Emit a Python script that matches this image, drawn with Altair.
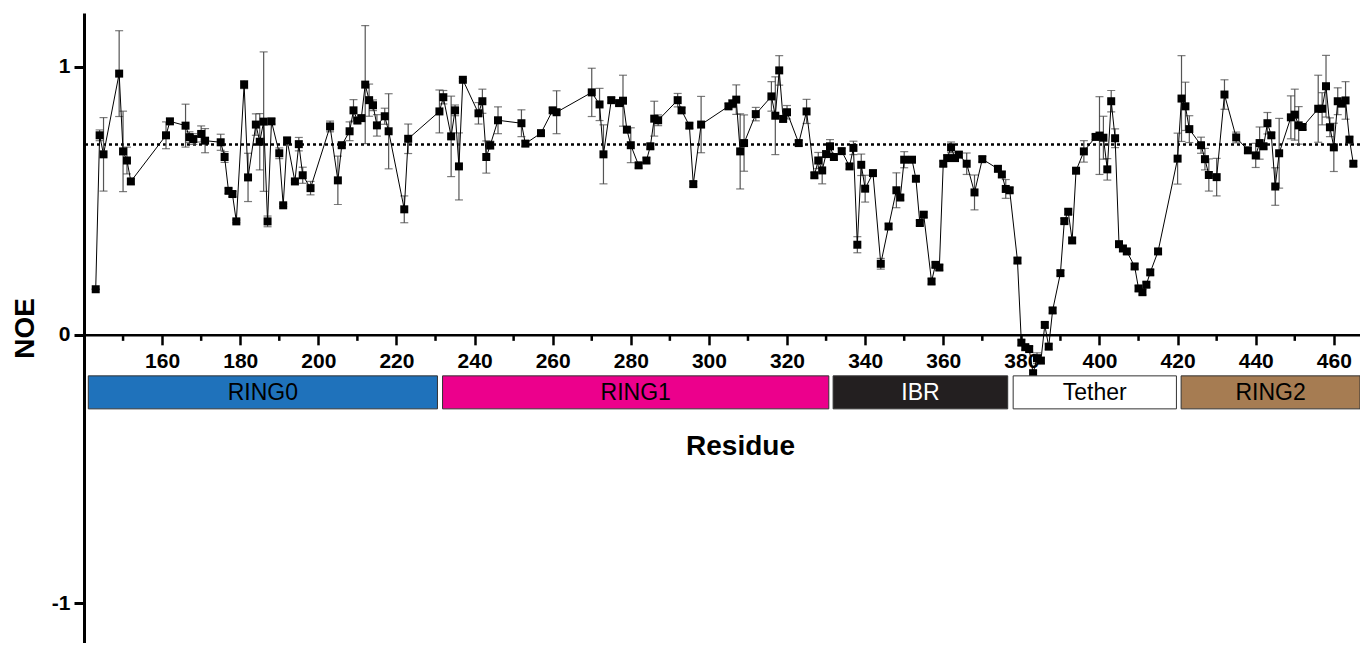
import altair as alt
import pandas as pd

# ---------------- data ----------------
residue = [143, 144, 145, 149, 150, 151, 152, 161, 162, 166, 167, 168, 170, 171,
           175, 176, 177, 178, 179, 181, 182, 184, 185, 186, 187, 188, 190, 191,
           192, 194, 195, 196, 198, 203, 205, 206, 208, 209, 210, 211, 212, 213,
           214, 215, 217, 218, 222, 223, 231, 232, 234, 235, 236, 237, 241, 242,
           243, 244, 246, 252, 253, 257, 260, 261, 270, 272, 273, 275, 277, 278,
           279, 280, 282, 284, 285, 286, 287, 292, 293, 295, 296, 298, 305, 306,
           307, 308, 309, 312, 316, 317, 318, 319, 320, 323, 325, 327, 328, 329,
           330, 331, 332, 334, 336, 337, 338, 339, 340, 342, 344, 346, 348, 349,
           350, 352, 353, 354, 355, 357, 358, 359, 360, 361, 362, 363, 364, 366,
           368, 370, 374, 375, 376, 377, 379, 380, 381, 382, 383, 384, 385, 386,
           387, 388, 390, 391, 392, 393, 394, 396, 399, 400, 401, 402, 403, 404,
           405, 406, 407, 409, 410, 411, 412, 413, 415, 420, 421, 422, 423, 426,
           427, 428, 430, 432, 435, 438, 440, 441, 442, 443, 444, 445, 446, 449,
           450, 451, 452, 456, 457, 458, 459, 460, 461, 462, 463, 464, 465]

noe = [0.170, 0.744, 0.673, 0.974, 0.684, 0.650, 0.572, 0.744, 0.796, 0.780, 0.737,
       0.730, 0.749, 0.724, 0.718, 0.663, 0.537, 0.525, 0.423, 0.933, 0.587, 0.784,
       0.720, 0.795, 0.423, 0.796, 0.677, 0.483, 0.725, 0.572, 0.711, 0.595, 0.547,
       0.777, 0.576, 0.707, 0.759, 0.837, 0.799, 0.808, 0.933, 0.875, 0.856, 0.781,
       0.815, 0.759, 0.468, 0.731, 0.833, 0.886, 0.740, 0.837, 0.628, 0.951, 0.826,
       0.871, 0.663, 0.707, 0.800, 0.789, 0.713, 0.752, 0.837, 0.830, 0.904, 0.859,
       0.673, 0.875, 0.864, 0.873, 0.765, 0.707, 0.632, 0.650, 0.703, 0.806, 0.800,
       0.875, 0.837, 0.780, 0.562, 0.784, 0.852, 0.862, 0.877, 0.684, 0.715, 0.823,
       0.889, 0.817, 0.986, 0.805, 0.830, 0.715, 0.833, 0.595, 0.650, 0.613, 0.674,
       0.703, 0.663, 0.685, 0.628, 0.697, 0.336, 0.634, 0.545, 0.603, 0.265, 0.404,
       0.539, 0.512, 0.653, 0.653, 0.582, 0.417, 0.448, 0.199, 0.261, 0.251, 0.638,
       0.659, 0.699, 0.659, 0.672, 0.638, 0.531, 0.655, 0.619, 0.598, 0.544, 0.539,
       0.277, -0.029, -0.046, -0.053, -0.143, -0.087, -0.096, 0.037, -0.044, 0.091,
       0.230, 0.424, 0.459, 0.352, 0.612, 0.684, 0.738, 0.743, 0.735, 0.617, 0.871,
       0.733, 0.338, 0.322, 0.311, 0.255, 0.173, 0.159, 0.187, 0.233, 0.311, 0.657,
       0.881, 0.852, 0.767, 0.707, 0.655, 0.596, 0.588, 0.896, 0.736, 0.688, 0.669,
       0.715, 0.703, 0.789, 0.744, 0.553, 0.677, 0.811, 0.821, 0.781, 0.775, 0.843,
       0.843, 0.927, 0.774, 0.699, 0.871, 0.862, 0.874, 0.728, 0.638]

err = [0.0, 0.02, 0.137, 0.16, 0.15, 0.05, 0.01, 0.05, 0.01, 0.08, 0.02, 0.02,
       0.03, 0.045, 0.03, 0.02, 0.01, 0.01, 0.005, 0.015, 0.09, 0.04, 0.105, 0.26,
       0.02, 0.01, 0.02, 0.005, 0.01, 0.005, 0.025, 0.03, 0.025, 0.02, 0.09, 0.01,
       0.035, 0.04, 0.01, 0.01, 0.22, 0.06, 0.02, 0.04, 0.03, 0.14, 0.05, 0.055,
       0.08, 0.025, 0.15, 0.02, 0.125, 0.005, 0.04, 0.045, 0.06, 0.015, 0.05, 0.05,
       0.01, 0.01, 0.01, 0.08, 0.09, 0.06, 0.11, 0.01, 0.01, 0.095, 0.01, 0.065,
       0.01, 0.01, 0.01, 0.065, 0.02, 0.025, 0.01, 0.01, 0.01, 0.105, 0.01, 0.015,
       0.055, 0.14, 0.105, 0.025, 0.055, 0.145, 0.055, 0.01, 0.025, 0.01, 0.045,
       0.01, 0.03, 0.05, 0.01, 0.025, 0.01, 0.01, 0.01, 0.025, 0.03, 0.04, 0.05,
       0.01, 0.02, 0.01, 0.065, 0.01, 0.03, 0.01, 0.01, 0.01, 0.01, 0.01, 0.01,
       0.01, 0.01, 0.01, 0.02, 0.01, 0.01, 0.04, 0.065, 0.01, 0.01, 0.01, 0.035,
       0.01, 0.01, 0.01, 0.01, 0.01, 0.01, 0.02, 0.01, 0.01, 0.01, 0.01, 0.01,
       0.01, 0.01, 0.01, 0.01, 0.04, 0.01, 0.145, 0.08, 0.04, 0.04, 0.035, 0.01,
       0.01, 0.01, 0.01, 0.01, 0.01, 0.01, 0.01, 0.01, 0.095, 0.16, 0.09, 0.05,
       0.03, 0.04, 0.06, 0.07, 0.055, 0.02, 0.01, 0.045, 0.06, 0.01, 0.04, 0.01,
       0.07, 0.13, 0.08, 0.095, 0.07, 0.01, 0.125, 0.06, 0.115, 0.035, 0.09, 0.05,
       0.01, 0.07, 0.01, 0.01]

dom_names = ["RING0", "RING1", "IBR", "Tether", "RING2"]
dom_start = [141.1, 231.8, 331.8, 377.9, 420.9]
dom_end = [230.5, 330.7, 376.5, 419.7, 466.7]
dom_fill = ["#1f72bb", "#ec008c", "#231f20", "#ffffff", "#a67c52"]
dom_text = ["#000000", "#000000", "#ffffff", "#000000", "#000000"]
box_top, box_bottom = -0.153, -0.276

ref_line = [0.71]
x_major_ticks = list(range(160, 461, 20))
x_minor_ticks = list(range(150, 451, 20))
y_tick_values = [-1, 0, 1]

# ---------------- layout ----------------
X_MIN, X_MAX = 140, 466.7
Y_MIN, Y_MAX = -1.149, 1.2
W, H = 1276, 630
PX_PER_UNIT = H / (Y_MAX - Y_MIN)
x_axis_offset = -H * (0 - Y_MIN) / (Y_MAX - Y_MIN)
MINOR_TICK_PX = 6
FONT = "Liberation Sans"

df = pd.DataFrame({"res": residue, "noe": noe, "err": err})
df["lo"] = df["noe"] - df["err"]
df["hi"] = df["noe"] + df["err"]

dom = pd.DataFrame({"res": dom_start, "end": dom_end, "name": dom_names,
                    "fill": dom_fill, "tcol": dom_text})
dom["mid"] = (dom["res"] + dom["end"]) / 2
dom["noe"] = box_top
dom["bottom"] = box_bottom
dom["ymid"] = (box_top + box_bottom) / 2

minor = pd.DataFrame({"res": x_minor_ticks})
minor["noe"] = 0.0
minor["tick_end"] = -MINOR_TICK_PX / PX_PER_UNIT

refdf = pd.DataFrame({"noe": ref_line})

xscale = alt.Scale(domain=[X_MIN, X_MAX], nice=False, zero=False)
yscale = alt.Scale(domain=[Y_MIN, Y_MAX], nice=False, zero=False)

x_axis = alt.Axis(
    values=x_major_ticks,
    tickSize=10, tickWidth=2.5, tickColor="black", domainWidth=2.5, domainColor="black",
    offset=x_axis_offset, grid=False,
    labelFont=FONT, labelFontSize=21, labelFontWeight="bold", labelColor="black",
    labelPadding=6, labelFlush=False, labelOverlap=False,
    title="Residue", titleFont=FONT, titleFontSize=28, titleFontWeight="bold",
    titleColor="black", titlePadding=61, titleX=656,
)
y_axis = alt.Axis(
    values=y_tick_values,
    labelExpr="datum.value < 0 ? '-' + toString(-datum.value) : toString(datum.value)",
    tickSize=10, tickWidth=3, tickColor="black", domainWidth=3, domainColor="black",
    grid=False, labelFont=FONT, labelFontSize=21, labelFontWeight="bold",
    labelColor="black", labelPadding=4,
    title="NOE", titleFont=FONT, titleFontSize=28, titleFontWeight="bold",
    titleColor="black", titlePadding=12,
)


def X(field):
    return alt.X(field, type="quantitative", scale=xscale, axis=x_axis)


def Y(field):
    return alt.Y(field, type="quantitative", scale=yscale, axis=y_axis)


base = alt.Chart(df)

rule_ref = alt.Chart(refdf).mark_rule(
    color="black", strokeWidth=2.5, strokeDash=[3, 3]
).encode(y=Y("noe"))

minor_ticks = alt.Chart(minor).mark_rule(color="black", strokeWidth=2.5).encode(
    x=X("res"), y=Y("noe"), y2="tick_end:Q"
)

err_rule = base.mark_rule(color="#555555", strokeWidth=1.2).encode(
    x=X("res"), y=Y("lo"), y2="hi:Q"
)
cap_lo = base.mark_tick(orient="horizontal", size=8, thickness=1.2, color="#444444").encode(
    x=X("res"), y=Y("lo")
)
cap_hi = base.mark_tick(orient="horizontal", size=8, thickness=1.2, color="#444444").encode(
    x=X("res"), y=Y("hi")
)
line = base.mark_line(color="black", strokeWidth=1).encode(x=X("res"), y=Y("noe"))
pts = base.mark_point(shape="square", filled=True, size=64, color="black", opacity=1).encode(
    x=X("res"), y=Y("noe")
)

boxes = alt.Chart(dom).mark_rect(stroke="#333333", strokeWidth=1).encode(
    x=X("res"), x2="end:Q", y=Y("noe"), y2="bottom:Q",
    fill=alt.Fill("fill:N", scale=None),
)
box_text = alt.Chart(dom).mark_text(font=FONT, fontSize=23, baseline="middle",
                                    align="center", dy=1).encode(
    x=X("mid"), y=Y("ymid"),
    text="name:N",
    color=alt.Color("tcol:N", scale=None),
)

chart = alt.layer(
    minor_ticks, rule_ref, err_rule, cap_lo, cap_hi, line, pts, boxes, box_text
).properties(
    width=W, height=H,
    padding={"left": 76, "top": 5, "right": 0, "bottom": 0},
    autosize=alt.AutoSizeParams(type="none"),
    background="white",
).configure_view(stroke=None)

chart.save("out.html", embed_options={"renderer": "svg", "actions": False})
